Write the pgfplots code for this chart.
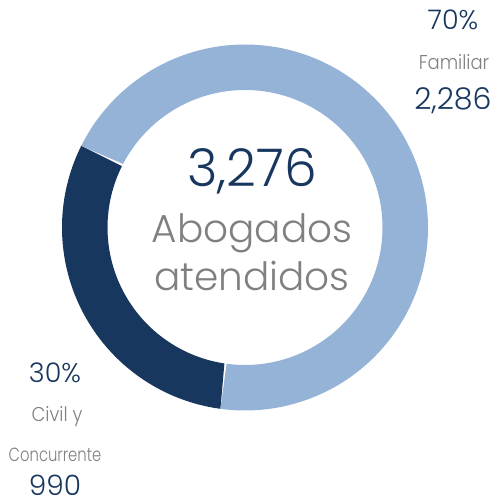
\documentclass[border=0pt]{standalone}
\usepackage{pgfplots}
\pgfplotsset{compat=1.18}
\usepackage{fontspec}
\setmainfont{Poppins Light}
\definecolor{famblue}{HTML}{95B3D7}
\definecolor{civnavy}{HTML}{17375E}
\definecolor{txtgray}{HTML}{808080}

% abogados atendidos por materia
\def\vCivil{990}
\def\vFam{2286}
\pgfmathsetmacro\total{\vCivil+\vFam}
\def\aStart{153.5}
\pgfmathsetmacro\aMid{\aStart+360*(\vCivil/\total)}
\pgfmathsetmacro\aEnd{\aStart+360}
\def\cx{245}\def\cy{274.5}\def\Ro{183}\def\Ri{137.5}

\begin{document}
\begin{tikzpicture}
\begin{axis}[
  x=1pt, y=1pt,
  xmin=0, xmax=492, ymin=0, ymax=502,
  hide axis, clip=false,
]
% anillo: arco exterior de ida, arco interior de vuelta
\addplot[fill=civnavy, draw=none, domain=0:2, samples=241, variable=\t]
  ({\cx+ifthenelse(\t<=1,\Ro,\Ri)*cos(ifthenelse(\t<=1,\aStart+(\aMid-\aStart)*\t,\aMid-(\aMid-\aStart)*(\t-1)))},
   {\cy+ifthenelse(\t<=1,\Ro,\Ri)*sin(ifthenelse(\t<=1,\aStart+(\aMid-\aStart)*\t,\aMid-(\aMid-\aStart)*(\t-1)))}) -- cycle;
\addplot[fill=famblue, draw=none, domain=0:2, samples=481, variable=\t]
  ({\cx+ifthenelse(\t<=1,\Ro,\Ri)*cos(ifthenelse(\t<=1,\aMid+(\aEnd-\aMid)*\t,\aEnd-(\aEnd-\aMid)*(\t-1)))},
   {\cy+ifthenelse(\t<=1,\Ro,\Ri)*sin(ifthenelse(\t<=1,\aMid+(\aEnd-\aMid)*\t,\aEnd-(\aEnd-\aMid)*(\t-1)))}) -- cycle;

\node[text=civnavy, font=\fontsize{52}{52}\selectfont] at (axis cs:252,331) {3,276};
\node[text=txtgray, font=\fontsize{39}{48}\selectfont, align=center] at (axis cs:252,250)
  {Abogados\\atendidos};

\node[text=civnavy, font=\fontsize{27}{27}\selectfont] at (axis cs:453,482) {70\%};
\node[text=txtgray, font=\fontsize{20}{20}\selectfont] at (axis cs:454,440) {\scalebox{0.9}[1]{Familiar}};
\node[text=civnavy, font=\fontsize{30}{30}\selectfont] at (axis cs:453,401) {2,286};

\node[text=civnavy, font=\fontsize{27}{27}\selectfont] at (axis cs:55,129) {30\%};
\node[text=txtgray, font=\fontsize{20}{20}\selectfont] at (axis cs:57,85) {\scalebox{0.9}[1]{Civil y}};
\node[text=txtgray, font=\fontsize{19}{19}\selectfont] at (axis cs:55,47) {\scalebox{0.78}[1]{Concurrente}};
\node[text=civnavy, font=\fontsize{28}{28}\selectfont] at (axis cs:55,17) {990};
\end{axis}
\pgfresetboundingbox
\path (current axis.south west) rectangle (current axis.north east);
\end{tikzpicture}
\end{document}
